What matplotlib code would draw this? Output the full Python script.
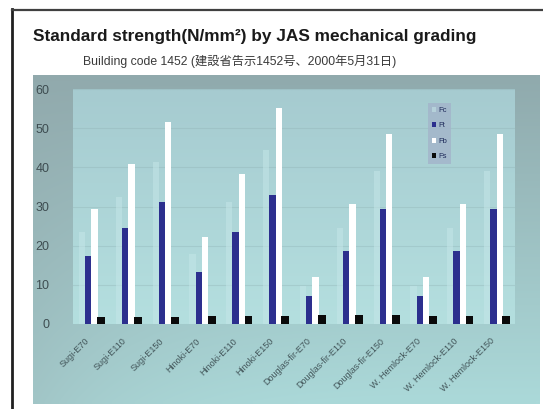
import numpy as np
import matplotlib
matplotlib.use('Agg')
import matplotlib.pyplot as plt
from matplotlib.lines import Line2D
from matplotlib.colors import to_rgb

plt.rcParams['font.family'] = ['Liberation Sans', 'Noto Sans CJK JP', 'DejaVu Sans']

# standard strength values (N/mm2), notification 1452
grades = ['Sugi-E70', 'Sugi-E110', 'Sugi-E150',
          'Hinoki-E70', 'Hinoki-E110', 'Hinoki-E150',
          'Douglas-fir-E70', 'Douglas-fir-E110', 'Douglas-fir-E150',
          'W. Hemlock-E70', 'W. Hemlock-E110', 'W. Hemlock-E150']
Fc = [23.4, 32.4, 41.4, 18.0, 31.2, 44.4, 9.6, 24.6, 39.0, 9.6, 24.6, 39.0]
Ft = [17.4, 24.6, 31.2, 13.2, 23.4, 33.0, 7.2, 18.6, 29.4, 7.2, 18.6, 29.4]
Fb = [29.4, 40.8, 51.6, 22.2, 38.4, 55.2, 12.0, 30.6, 48.6, 12.0, 30.6, 48.6]
Fs = [1.8, 1.8, 1.8, 2.1, 2.1, 2.1, 2.4, 2.4, 2.4, 2.1, 2.1, 2.1]

W, H = 543, 409
fig = plt.figure(figsize=(W / 100, H / 100), dpi=100)
fig.patch.set_facecolor('white')


def px(x0, y0, x1, y1):
    # pixel box (left, top, right, bottom) -> figure rect
    return [x0 / W, 1 - y1 / H, (x1 - x0) / W, (y1 - y0) / H]


def gradient(ax, c_top, c_bot, c_left=None, n=64):
    t = np.linspace(0, 1, n)[:, None, None]
    top = np.array(to_rgb(c_top))
    bot = np.array(to_rgb(c_bot))
    img = top * (1 - t) + bot * t
    img = np.repeat(img, n, axis=1)
    if c_left is not None:
        s = np.linspace(1, 0, n)[None, :, None] ** 4
        img = img * (1 - s * 0.4) + np.array(to_rgb(c_left)) * s * 0.4
    ax.imshow(img, extent=[0, 1, 0, 1], transform=ax.transAxes,
              aspect='auto', zorder=0, interpolation='bilinear')


# outer frame lines
fig.add_artist(Line2D([12 / W, 12 / W], [1 - 9 / H, 0], color='#202020', lw=2.0))
fig.add_artist(Line2D([12 / W, 1], [1 - 10 / H, 1 - 10 / H], color='#404040', lw=1.6))

fig.text(33 / W, 1 - 37 / H, 'Standard strength(N/mm²) by JAS mechanical grading',
         fontsize=12.4, fontweight='bold', color='#1a1a1a', va='center', ha='left')
fig.text(83 / W, 1 - 61 / H, 'Building code 1452 (建設省告示1452号、2000年5月31日)',
         fontsize=8.8, color='#3a3a3a', va='center', ha='left')

# chart area background
bg = fig.add_axes(px(33, 75, 540, 404))
bg.set_axis_off()
gradient(bg, '#90aaad', '#abd9d9', c_left='#93a9ac')

ax = fig.add_axes(px(73, 89, 515, 324))
ax.patch.set_alpha(0)
gradient(ax, '#a6cbd0', '#b4dfdf')
ax.set_zorder(2)

x = np.arange(len(grades))
w = 0.17
ax.bar(x - 1.5 * w, Fc, w, color='#c4e6e8', alpha=0.55, label='Fc', zorder=3)
ax.bar(x - 0.5 * w, Ft, w, color='#2c2f8e', label='Ft', zorder=3)
ax.bar(x + 0.5 * w, Fb, w, color='#ffffff', label='Fb', zorder=3)
ax.bar(x + 1.55 * w, Fs, w * 1.25, color='#0a0a0a', label='Fs', zorder=3)

ax.set_xlim(-0.5, len(grades) - 0.5)
ax.set_ylim(0, 60)
ax.set_yticks(np.arange(0, 61, 10))
ax.yaxis.grid(True, color='#8fb0b3', lw=0.8, alpha=0.35)
ax.set_axisbelow(True)
for s in ax.spines.values():
    s.set_visible(False)
ax.tick_params(axis='y', length=0, pad=17, labelsize=9, labelcolor='#3e4d51')
ax.tick_params(axis='x', length=0, pad=9)
ax.set_xticks(x)
ax.set_xticklabels(grades, rotation=45, ha='right', va='top',
                   fontsize=6.5, color='#43565a')

leg = ax.legend(loc='upper left', bbox_to_anchor=((428 - 73) / 442, 1 - (103 - 89) / 235),
                fontsize=5.5, frameon=True, fancybox=False, handlelength=0.6,
                handleheight=0.6, handletextpad=0.3, labelspacing=1.1,
                borderpad=0.5, borderaxespad=0)
leg.get_frame().set_facecolor('#a3b4ca')
leg.get_frame().set_edgecolor('none')
leg.get_frame().set_alpha(0.8)
for t in leg.get_texts():
    t.set_color('#1e2a5a')

plt.savefig('out.png', dpi=100)
